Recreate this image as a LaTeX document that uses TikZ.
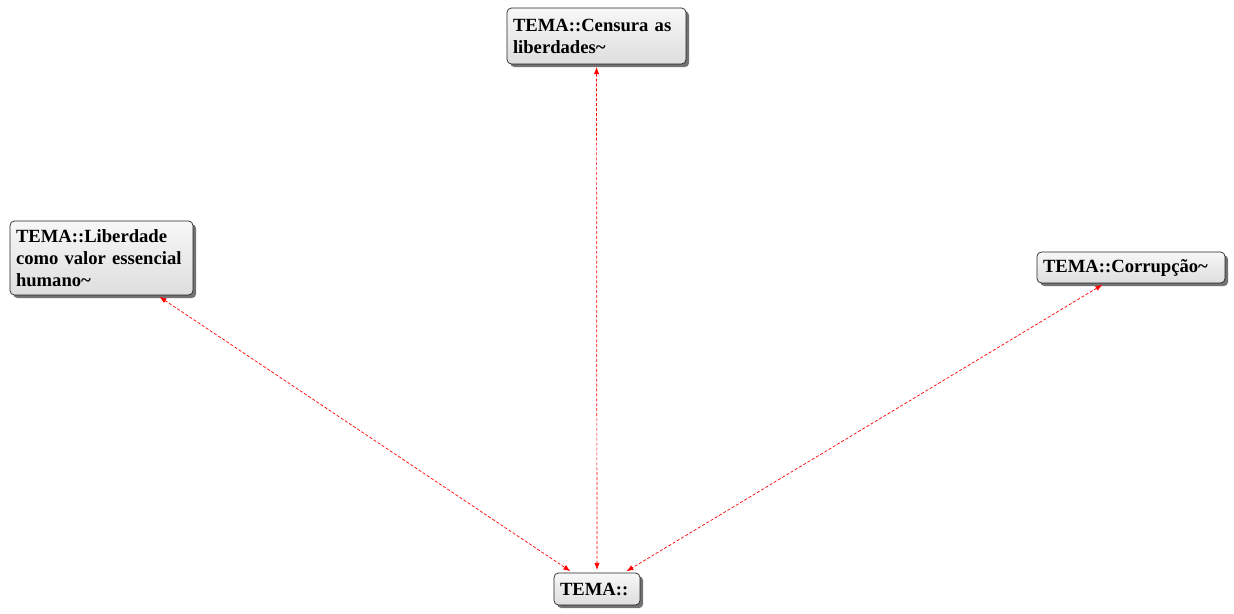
\documentclass[tikz,border=0pt]{standalone}
\usepackage{fontspec}
\setmainfont{Liberation Serif}
\usetikzlibrary{arrows.meta,shadows}

\begin{document}
\begin{tikzpicture}[x=0.02cm,y=-0.02cm,
  tema/.style={draw=black!85,rounded corners=2.5pt,top color=white!97!black,bottom color=white!87!black,
    drop shadow={shadow xshift=1.8pt,shadow yshift=-1.8pt,fill=black!55,opacity=1},
    inner xsep=0.12cm,inner ysep=1pt,align=left,font=\fontsize{10.6}{12.5}\selectfont\bfseries},
  link/.style={red,dash pattern=on 1.7pt off 1.1pt,{Latex[length=4pt,width=3pt]}-{Latex[length=4pt,width=3pt]},shorten <=1.5pt,shorten >=1.5pt}]
  \useasboundingbox (0,0) rectangle (1234,614);
  % Themes
  \node[tema,text width=3.34cm,minimum height=1.12cm] (censura) at (596.5,36) {TEMA::Censura as\\liberdades\textasciitilde};
  \node[tema,text width=3.42cm,minimum height=1.48cm] (liberdade) at (101.5,258) {TEMA::Liberdade\\como valor essencial\\humano\textasciitilde};
  \node[tema,text width=3.52cm,minimum height=0.62cm] (corrupcao) at (1131,267.5) {TEMA::Corrupção\textasciitilde};

  % Root
  \node[tema,text width=1.48cm,minimum height=0.64cm] (tema) at (597,589) {TEMA::};

  \draw[link](liberdade)--(tema);
  \draw[link](censura)--(tema);
  \draw[link](corrupcao)--(tema);
\end{tikzpicture}
\end{document}
